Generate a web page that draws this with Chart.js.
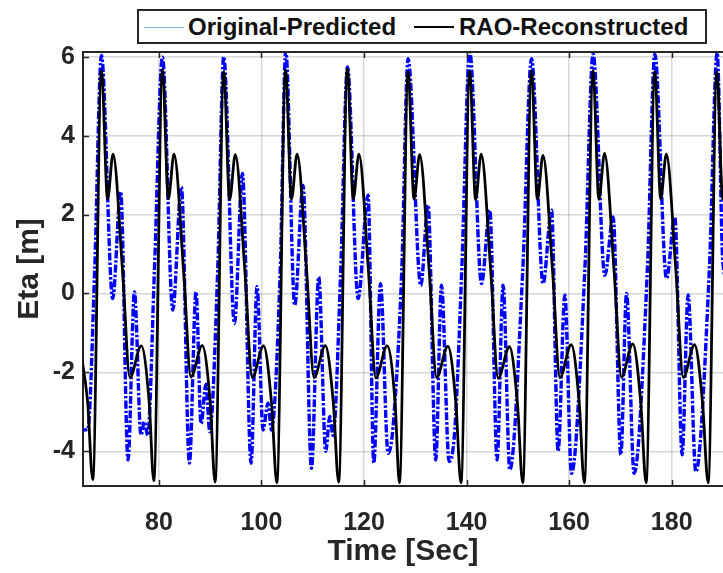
<!DOCTYPE html>
<html>
<head>
<meta charset="utf-8">
<script src="https://cdn.jsdelivr.net/npm/chart.js@4/dist/chart.umd.min.js"></script>
<style>
  html, body { margin: 0; padding: 0; background: #fff; }
  #wrap { position: relative; width: 723px; height: 573px; overflow: hidden; }
  #c { position: absolute; left: 0; top: 0; }
  #legend { position: absolute; left: 137px; top: 9px; width: 566px; height: 31px; border: 2px solid #262626; background: #fff;
            font-family: 'Liberation Sans', Arial, sans-serif; font-weight: bold; font-size: 24px; color: #111; }
  #legend .ln { position: absolute; top: 16px; height: 0; }
  #legend .tx { position: absolute; top: 1px; line-height: 30px; white-space: nowrap; }
</style>
</head>
<body>
<div id="wrap">
  <canvas id="c" width="723" height="573"></canvas>
  <div id="legend">
    <div class="ln" style="left:5px;width:40px;border-top:1px solid #7fb0e0;"></div>
    <div class="tx" style="left:49px;">Original-Predicted</div>
    <div class="ln" style="left:275px;width:40px;border-top:2px solid #000;top:15px;"></div>
    <div class="tx" style="left:320px;">RAO-Reconstructed</div>
  </div>
</div>
<script>
// ---- data ----
const xTicks = [80, 100, 120, 140, 160, 180];
const yTicks = [-4, -2, 0, 2, 4, 6];

// Original-Predicted (blue dash-dot)
const blueT = [64.56, 65.2, 66.12, 67.48, 68.79, 70.99, 72.55, 73.98, 75.23, 76.51, 77.18, 77.82, 79.13,
  80.69, 82.70, 84.39, 85.95, 87.24, 88.22, 89.19, 89.91, 91.47,
  92.64, 94.73, 96.29, 97.97, 99.14, 100.31, 101.28, 101.95, 103.66,
  104.74, 106.49, 108.11, 109.75, 111.17, 112.54, 113.32, 113.96, 115.46,
  116.77, 118.84, 120.79, 121.90, 123.21, 124.69, 125.66, 127.36,
  128.59, 131.07, 132.49, 133.99, 135.10, 136.59, 137.70, 139.06,
  140.62, 142.91, 144.53, 145.95, 147.12, 148.43, 150.96,
  152.66, 154.92, 156.56, 157.85, 159.16, 160.46, 163.06,
  164.67, 166.96, 168.58, 170.08, 171.19, 172.67, 175.25,
  176.71, 178.99, 180.61, 182.03, 183.20, 184.70, 187.34,
  188.86, 189.97, 191.14];
const blueEta = [-3.5, -3.46, -3.45, 0.6, 6.03, -0.13, 2.58, -4.22, 0.04, -3.59, -3.25, -3.6, 0.59,
  5.99, -0.42, 2.7, -4.3, 0.04, -3.3, -2.3, -3.5, 0.6,
  6.0, -0.76, 3.04, -4.3, 0.17, -3.46, -2.78, -3.46, 0.6,
  6.15, -0.3, 2.74, -4.43, 0.42, -4.0, -3.12, -3.6, 0.6,
  5.74, -0.13, 2.49, -4.3, 0.25, -4.05, -3.38, 0.6,
  5.95, 0.2, 2.24, -4.22, 0.21, -4.26, -3.46, 0.6,
  6.12, 0.25, 2.11, -4.22, 0.21, -4.47, 0.6,
  5.95, 0.25, 2.11, -4.0, -0.04, -4.56, 0.6,
  6.07, 0.46, 1.94, -4.09, 0.0, -4.56, 0.6,
  6.07, 0.38, 1.94, -4.09, -0.04, -4.52, 0.6,
  6.1, 0.8, 0.2];

// RAO-Reconstructed (black solid)
const blackT = [64.55, 66.1, 67.1, 68.8, 70.0, 71.05, 72.9, 74.35, 76.55, 78.1,
  79.0, 80.7, 81.85, 82.95, 84.8, 86.25, 88.45, 90.0,
  90.95, 92.65, 93.8, 94.9, 96.75, 98.2, 100.4, 101.95,
  103.0, 104.7, 105.85, 106.95, 108.8, 110.25, 112.45, 114.0,
  115.05, 116.75, 117.9, 119.0, 120.85, 122.3, 124.5, 126.05,
  126.9, 128.6, 129.75, 130.85, 132.7, 134.15, 136.35, 137.9,
  138.9, 140.6, 141.75, 142.85, 144.7, 146.15, 148.35, 149.9,
  150.95, 152.65, 153.8, 154.9, 156.75, 158.2, 160.4, 161.95,
  162.95, 164.65, 165.8, 166.9, 168.75, 170.2, 172.4, 173.95,
  175.0, 176.7, 177.85, 178.95, 180.8, 182.25, 184.45, 186.0,
  187.1, 188.8, 189.95, 191.05];
const blackEta = [-1.32, -2.75, -4.72, 5.65, 2.39, 3.53, 0.6, -2.13, -1.33, -2.75,
  -4.75, 5.68, 2.4, 3.53, 0.6, -2.12, -1.32, -2.75,
  -4.78, 5.62, 2.38, 3.52, 0.6, -2.13, -1.33, -2.76,
  -4.8, 5.66, 2.39, 3.53, 0.6, -2.13, -1.32, -2.75,
  -4.78, 5.7, 2.4, 3.53, 0.6, -2.14, -1.33, -2.75,
  -4.8, 5.62, 2.39, 3.52, 0.6, -2.13, -1.34, -2.76,
  -4.8, 5.64, 2.38, 3.53, 0.6, -2.15, -1.35, -2.76,
  -4.8, 5.64, 2.39, 3.5, 0.6, -2.13, -1.3, -2.75,
  -4.8, 5.65, 2.39, 3.55, 0.6, -2.12, -1.28, -2.74,
  -4.8, 5.62, 2.4, 3.53, 0.6, -2.13, -1.3, -2.75,
  -4.8, 5.62, 2.39, 3.53];

const FONT = "'Liberation Sans', Arial, sans-serif";
const toPts = (xs, ys) => xs.map((t, i) => ({ x: t, y: ys[i] }));

const frame = {
  id: 'frame',
  afterDatasetsDraw(chart) {
    const { ctx, chartArea: a, scales: { x, y } } = chart;
    ctx.save();
    ctx.strokeStyle = '#262626';
    ctx.lineWidth = 1.5;
    ctx.beginPath();
    xTicks.forEach(v => {
      const px = Math.round(x.getPixelForValue(v)) + 0.5;
      ctx.moveTo(px, a.bottom); ctx.lineTo(px, a.bottom - 6);
      ctx.moveTo(px, a.top); ctx.lineTo(px, a.top + 6);
    });
    yTicks.forEach(v => {
      const py = Math.round(y.getPixelForValue(v)) + 0.5;
      ctx.moveTo(a.left, py); ctx.lineTo(a.left + 6, py);
    });
    ctx.stroke();
    ctx.lineWidth = 2;
    ctx.beginPath();
    ctx.moveTo(a.left, a.top); ctx.lineTo(a.right, a.top);
    ctx.stroke();
    ctx.restore();
  }
};

new Chart(document.getElementById('c'), {
  type: 'line',
  data: {
    datasets: [
      {
        label: 'RAO-Reconstructed',
        data: toPts(blackT, blackEta),
        borderColor: '#000000',
        borderWidth: 2.8,
        pointRadius: 0,
        cubicInterpolationMode: 'monotone',
        order: 0
      },
      {
        label: 'Original-Predicted',
        data: toPts(blueT, blueEta),
        borderColor: '#0000ff',
        borderWidth: 3.4,
        borderDash: [8, 2, 2.5, 2],
        pointRadius: 0,
        cubicInterpolationMode: 'monotone',
        order: 1
      }
    ]
  },
  options: {
    responsive: false,
    animation: false,
    devicePixelRatio: 1,
    layout: { padding: { top: 52, right: 0, left: 0, bottom: 0 } },
    plugins: { legend: { display: false }, tooltip: { enabled: false } },
    scales: {
      x: {
        type: 'linear',
        min: 65.2,
        max: 190.0,
        afterBuildTicks: s => { s.ticks = xTicks.map(v => ({ value: v })); },
        afterFit: s => { s.height = 87; },
        grid: { color: 'rgba(38,38,38,0.18)', lineWidth: 1.5, drawTicks: false },
        border: { display: true, color: '#262626', width: 2 },
        ticks: { padding: 22, color: '#262626', font: { family: FONT, size: 25, weight: 'bold' }, maxRotation: 0 },
        title: { display: true, text: 'Time [Sec]', color: '#262626', font: { family: FONT, size: 30, weight: 'bold' }, padding: { top: 0, bottom: 3 } }
      },
      y: {
        min: -4.88,
        max: 6.12,
        afterBuildTicks: s => { s.ticks = yTicks.map(v => ({ value: v })); },
        afterFit: s => { s.width = 83; },
        grid: { color: 'rgba(38,38,38,0.18)', lineWidth: 1.5, drawTicks: false },
        border: { display: true, color: '#262626', width: 2 },
        ticks: { padding: 8, color: '#262626', font: { family: FONT, size: 25, weight: 'bold' } },
        title: { display: true, text: 'Eta [m]', color: '#262626', font: { family: FONT, size: 30, weight: 'bold' }, padding: { top: 12, bottom: 0 } }
      }
    }
  },
  plugins: [frame]
});
</script>
</body>
</html>
